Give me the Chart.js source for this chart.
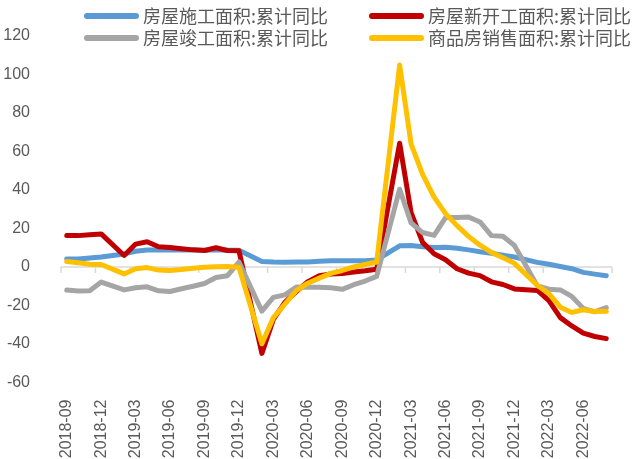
<!DOCTYPE html>
<html>
<head>
<meta charset="utf-8">
<script src="https://cdn.jsdelivr.net/npm/chart.js@4.4.0/dist/chart.umd.min.js"></script>
<style>
  html, body { margin: 0; padding: 0; background: #fff; }
  #wrap { width: 636px; height: 459px; }
</style>
</head>
<body>
<div id="wrap"><canvas id="houseChart" width="636" height="459"></canvas></div>
<script>
const months = [
  '2018-09', '2018-10', '2018-11', '2018-12',
  '2019-01', '2019-02', '2019-03', '2019-04', '2019-05', '2019-06', '2019-07', '2019-08', '2019-09', '2019-10', '2019-11', '2019-12',
  '2020-01', '2020-02', '2020-03', '2020-04', '2020-05', '2020-06', '2020-07', '2020-08', '2020-09', '2020-10', '2020-11', '2020-12',
  '2021-01', '2021-02', '2021-03', '2021-04', '2021-05', '2021-06', '2021-07', '2021-08', '2021-09', '2021-10', '2021-11', '2021-12',
  '2022-01', '2022-02', '2022-03', '2022-04', '2022-05', '2022-06', '2022-07', '2022-08'
];

// cumulative YoY, %; January has no separate release (null)
const underConstruction = [
  4.1, 4.2, 4.7, 5.2,
  null, 6.8, 8.2, 8.8, 8.8, 8.8, 9.0, 8.8, 8.7, 9.0, 8.7, 8.7,
  null, 2.9, 2.6, 2.5, 2.6, 2.6, 3.0, 3.2, 3.3, 3.2, 3.2, 3.7,
  null, 11.0, 11.2, 10.5, 10.1, 10.2, 9.7, 8.9, 7.9, 7.1, 6.1, 5.2,
  null, 2.4, 1.4, 0.3, -0.9, -2.8, -3.7, -4.5
];
const newStarts = [
  16.4, 16.3, 16.8, 17.2,
  null, 6.0, 11.9, 13.1, 10.5, 10.1, 9.5, 8.9, 8.6, 10.0, 8.6, 8.5,
  null, -44.9, -27.2, -18.4, -12.8, -7.6, -4.5, -3.6, -3.4, -2.6, -2.0, -1.2,
  null, 64.3, 28.2, 12.8, 6.9, 3.8, -0.9, -3.2, -4.5, -7.7, -9.1, -11.4,
  null, -12.2, -17.5, -26.3, -30.6, -34.4, -36.1, -37.2
];
const completed = [
  -12.0, -12.5, -12.3, -7.8,
  null, -11.9, -10.8, -10.3, -12.4, -12.7, -11.3, -10.0, -8.6, -5.5, -4.5, 2.6,
  null, -22.9, -15.8, -14.5, -10.4, -10.5, -10.5, -10.8, -11.6, -9.2, -7.3, -4.9,
  null, 40.4, 22.9, 17.9, 16.4, 25.7, 25.7, 26.0, 23.4, 16.3, 16.0, 11.2,
  null, -9.8, -11.5, -11.9, -15.3, -21.5, -23.3, -21.1
];
const salesArea = [
  2.9, 2.2, 1.4, 1.3,
  null, -3.6, -0.9, -0.3, -1.6, -1.8, -1.3, -0.6, -0.1, 0.1, 0.2, -0.1,
  null, -39.9, -26.3, -19.3, -12.3, -8.4, -5.8, -3.3, -1.8, 0.0, 1.3, 2.6,
  null, 104.9, 63.8, 48.1, 36.3, 27.7, 21.5, 15.9, 11.3, 7.6, 4.8, 1.9,
  null, -9.6, -13.8, -20.9, -23.6, -22.2, -23.1, -23.0
];

const seriesNames = ['房屋施工面积:累计同比', '房屋新开工面积:累计同比', '房屋竣工面积:累计同比', '商品房销售面积:累计同比'];
const seriesColors = ['#5B9BD5', '#C00000', '#A5A5A5', '#FFC000'];
const seriesData = [underConstruction, newStarts, completed, salesArea];

const textColor = '#595959';

// zero line with small tick marks every 3 months, like the excel axis
const zeroAxis = {
  id: 'zeroAxis',
  beforeDatasetsDraw(chart) {
    const { ctx, chartArea, scales: { x, y } } = chart;
    const y0 = y.getPixelForValue(0);
    const half = (x.getPixelForValue(1) - x.getPixelForValue(0)) / 2;
    ctx.save();
    ctx.strokeStyle = '#D9D9D9';
    ctx.lineWidth = 1.5;
    ctx.beginPath();
    ctx.moveTo(chartArea.left, y0);
    ctx.lineTo(chartArea.right, y0);
    for (let i = 0; i <= months.length; i += 3) {
      const px = i < months.length ? x.getPixelForValue(i) - half : x.getPixelForValue(months.length - 1) + half;
      ctx.moveTo(px, y0);
      ctx.lineTo(px, y0 + 6);
    }
    ctx.stroke();
    ctx.restore();
  }
};

// 2x2 legend drawn over the top of the plot
const topLegend = {
  id: 'topLegend',
  afterDraw(chart) {
    const ctx = chart.ctx;
    const colX = [84, 369];
    const rowY = [16, 38];
    ctx.save();
    ctx.font = '18px "Noto Sans CJK SC"';
    ctx.textBaseline = 'middle';
    chart.data.datasets.forEach((ds, i) => {
      const x = colX[i % 2];
      const y = rowY[Math.floor(i / 2)];
      ctx.strokeStyle = ds.borderColor;
      ctx.lineWidth = 6;
      ctx.lineCap = 'round';
      ctx.beginPath();
      ctx.moveTo(x + 3, y);
      ctx.lineTo(x + 52, y);
      ctx.stroke();
      ctx.fillStyle = textColor;
      ctx.fillText(ds.label, x + 59, y);
    });
    ctx.restore();
  }
};

const ctx = document.getElementById('houseChart');
new Chart(ctx, {
  type: 'line',
  data: {
    labels: months,
    datasets: seriesNames.map((name, i) => ({
      label: name,
      data: seriesData[i],
      borderColor: seriesColors[i],
      backgroundColor: seriesColors[i],
      borderWidth: 5,
      borderJoinStyle: 'round',
      borderCapStyle: 'round',
      pointRadius: 0,
      tension: 0,
      spanGaps: true,
      order: 4 - i
    }))
  },
  options: {
    responsive: false,
    animation: false,
    layout: { padding: { top: 36, right: 24, left: 0, bottom: 0 } },
    plugins: {
      legend: { display: false },
      tooltip: { enabled: false }
    },
    scales: {
      x: {
        type: 'category',
        offset: true,
        grid: { display: false },
        border: { display: false },
        ticks: {
          autoSkip: false,
          minRotation: 90,
          maxRotation: 90,
          padding: 9,
          color: textColor,
          font: { family: 'Liberation Sans', size: 16 },
          callback: (val, i) => (i % 3 === 0 ? months[i] : '')
        },
        afterFit: s => { s.height = 76.5; }
      },
      y: {
        min: -60,
        max: 120,
        grid: { display: false },
        border: { display: false },
        ticks: {
          stepSize: 20,
          padding: 23,
          color: textColor,
          font: { family: 'Liberation Sans', size: 16 }
        },
        afterFit: s => { s.width = 61; }
      }
    }
  },
  plugins: [zeroAxis, topLegend]
});
</script>
</body>
</html>
